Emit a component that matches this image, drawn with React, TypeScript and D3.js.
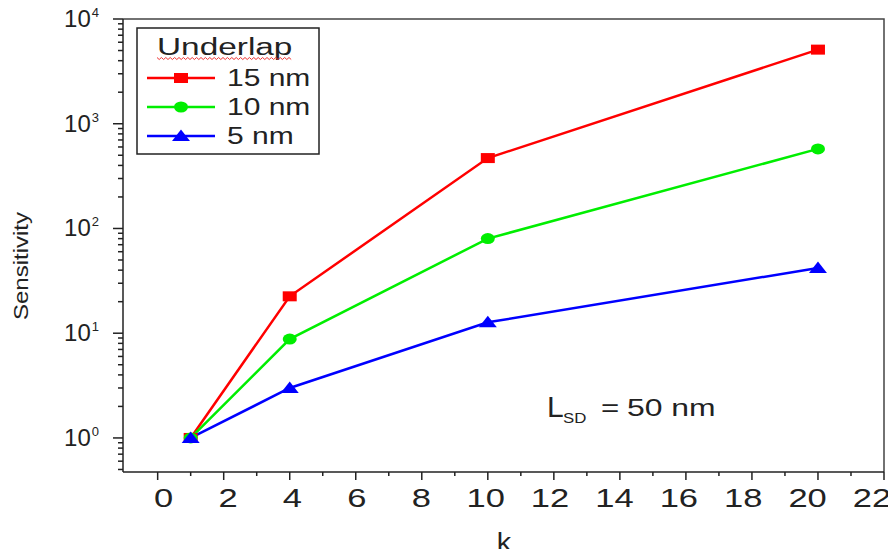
import React, { useEffect, useRef } from "react";
import * as d3 from "d3";

// values
const kValues = [1, 4, 10, 20];
const series15 = [1, 22.5, 470, 5100];
const series10 = [1, 8.8, 80, 575];
const series5 = [1, 3.0, 12.7, 42];
const seriesNames = ["15 nm", "10 nm", "5 nm"];
const seriesColors = ["#ff0000", "#00ee00", "#0000ff"];
const xTicks = [0, 2, 4, 6, 8, 10, 12, 14, 16, 18, 20, 22];
const yDecades = [0, 1, 2, 3, 4];

const W = 896, H = 557;
const margin = { top: 19, right: 12, bottom: 85, left: 123 };

export default function App() {
  const ref = useRef<SVGSVGElement>(null);

  useEffect(() => {
    const svg = d3.select(ref.current);
    svg.selectAll("*").remove();
    const width = W - margin.left - margin.right;
    const height = H - margin.top - margin.bottom;
    const font = "'Liberation Sans', Arial, sans-serif";
    const ink = "#222";

    // text in the original is drawn wider than the font, so stretch it
    const stext = (parent: any, x: number, y: number, str: string, size: number, sx: number, anchor = "start") =>
      parent.append("text")
        .attr("transform", `translate(${x},${y}) scale(${sx},1)`)
        .attr("text-anchor", anchor).attr("font-family", font)
        .attr("font-size", size).attr("fill", ink).text(str);
    const squiggle = (parent: any, x0: number, x1: number, yy: number, color: string) =>
      parent.append("path")
        .attr("d", d3.range(0, Math.floor((x1 - x0) / 2.2) + 1)
          .map(i => (i === 0 ? "M" : "L") + (x0 + i * 2.2) + "," + (yy + (i % 2) * 2)).join(""))
        .attr("fill", "none").attr("stroke", color).attr("stroke-width", 1);

    const x = d3.scaleLinear().domain([-1.05, 22]).range([0, width]);
    const y = d3.scaleLog().domain([0.473, 10000]).range([height, 0]);
    // tick labels sit slightly off the ticks in the original
    const xl = d3.scaleLinear().domain([0, 22]).range([x(0) + 6, x(22) - 12]);

    const g = svg.append("g")
      .attr("transform", "translate(" + margin.left + "," + margin.top + ")");

    // frame top/right
    g.append("path")
      .attr("d", `M0,0H${width}V${height}`)
      .attr("fill", "none").attr("stroke", "#444").attr("stroke-width", 1.5);

    // x axis
    const xMinor = d3.range(1, 22, 2);
    const xg = g.append("g").attr("transform", "translate(0," + height + ")");
    xg.append("line").attr("x1", 0).attr("x2", width)
      .attr("stroke", ink).attr("stroke-width", 1.5);
    xg.selectAll("line.maj").data(xTicks).enter().append("line")
      .attr("x1", d => x(d)).attr("x2", d => x(d)).attr("y1", 0).attr("y2", 8)
      .attr("stroke", ink).attr("stroke-width", 1.5);
    xg.selectAll("line.min").data(xMinor).enter().append("line")
      .attr("x1", d => x(d)).attr("x2", d => x(d)).attr("y1", 0).attr("y2", 4)
      .attr("stroke", ink).attr("stroke-width", 1.5);
    xTicks.forEach(d => stext(xg, xl(d), 35, String(d), 25, 1.38, "middle"));

    // y axis
    const yg = g.append("g");
    yg.append("line").attr("y1", 0).attr("y2", height)
      .attr("stroke", ink).attr("stroke-width", 1.5);
    const minor: number[] = [];
    [0.1, 1, 10, 100, 1000].forEach(b => {
      for (let i = 2; i <= 9; i++) {
        const v = b * i;
        if (v >= 0.473 && v <= 10000) minor.push(v);
      }
    });
    yg.selectAll("line.min").data(minor).enter().append("line")
      .attr("x1", -5).attr("x2", 0).attr("y1", d => y(d)).attr("y2", d => y(d))
      .attr("stroke", ink).attr("stroke-width", 1.5);
    yg.selectAll("line.maj").data(yDecades).enter().append("line")
      .attr("x1", -10).attr("x2", 0)
      .attr("y1", d => y(Math.pow(10, d))).attr("y2", d => y(Math.pow(10, d)))
      .attr("stroke", ink).attr("stroke-width", 1.5);
    const yl = yg.selectAll("text").data(yDecades).enter().append("text")
      .attr("x", -24).attr("y", d => y(Math.pow(10, d)) + 8)
      .attr("text-anchor", "end").attr("font-family", font).attr("fill", ink);
    yl.append("tspan").attr("font-size", 24).text("10");
    yl.append("tspan").attr("font-size", 13).attr("dy", -10).attr("dx", 1).text(d => d);

    // y title
    svg.append("text")
      .attr("transform", "translate(28,266) rotate(-90) scale(1.23,1)")
      .attr("text-anchor", "middle").attr("font-family", font).attr("font-size", 19.5)
      .attr("fill", ink).text("Sensitivity");

    // x title
    stext(svg, 504, 551, "k", 25, 1.15, "middle");
    squiggle(svg, 497, 512, 553, "#3a3");

    // annotation
    stext(svg, 547, 417, "L", 30, 1, "start");
    stext(svg, 563, 423, "SD", 14, 1.2, "start");
    stext(svg, 601, 416, "=", 24, 1.3, "start");
    stext(svg, 627, 416, "50 nm", 24, 1.33, "start");

    // series
    const allSeries = [series15, series10, series5];
    const line = d3.line<number>().x((d, i) => x(kValues[i])).y(d => y(d));
    const marker = (sel: any, idx: number, color: string) => {
      if (idx === 0) {
        sel.append("rect").attr("x", -7).attr("y", -5).attr("width", 14).attr("height", 10).attr("fill", color);
      } else if (idx === 1) {
        sel.append("ellipse").attr("rx", 7).attr("ry", 5.5).attr("fill", color);
      } else {
        sel.append("path").attr("d", "M0,-6.5L9,5H-9Z").attr("fill", color);
      }
    };
    allSeries.forEach((s, si) => {
      g.append("path").datum(s).attr("d", line)
        .attr("fill", "none").attr("stroke", seriesColors[si]).attr("stroke-width", 2.5);
    });
    allSeries.forEach((s, si) => {
      s.forEach((v, i) => {
        const m = g.append("g").attr("transform", `translate(${x(kValues[i])},${y(v)})`);
        marker(m, si, seriesColors[si]);
      });
    });

    // legend
    const lg = svg.append("g").attr("transform", "translate(137,28)");
    lg.append("rect").attr("width", 182).attr("height", 126)
      .attr("fill", "white").attr("stroke", "#222").attr("stroke-width", 1.5);
    stext(lg, 20, 27, "Underlap", 23.5, 1.42, "start");
    squiggle(lg, 20, 155, 29.5, "#e33");
    seriesNames.forEach((name, si) => {
      const cy = 50 + si * 29;
      lg.append("line").attr("x1", 10).attr("x2", 78).attr("y1", cy).attr("y2", cy)
        .attr("stroke", seriesColors[si]).attr("stroke-width", 2.5);
      const m = lg.append("g").attr("transform", `translate(44,${cy})`);
      marker(m, si, seriesColors[si]);
      stext(lg, 90, cy + 8, name, 24, 1.25, "start");
    });
  }, []);

  return <svg ref={ref} width={W} height={H} style={{ display: "block", margin: "-8px" }} />;
}
